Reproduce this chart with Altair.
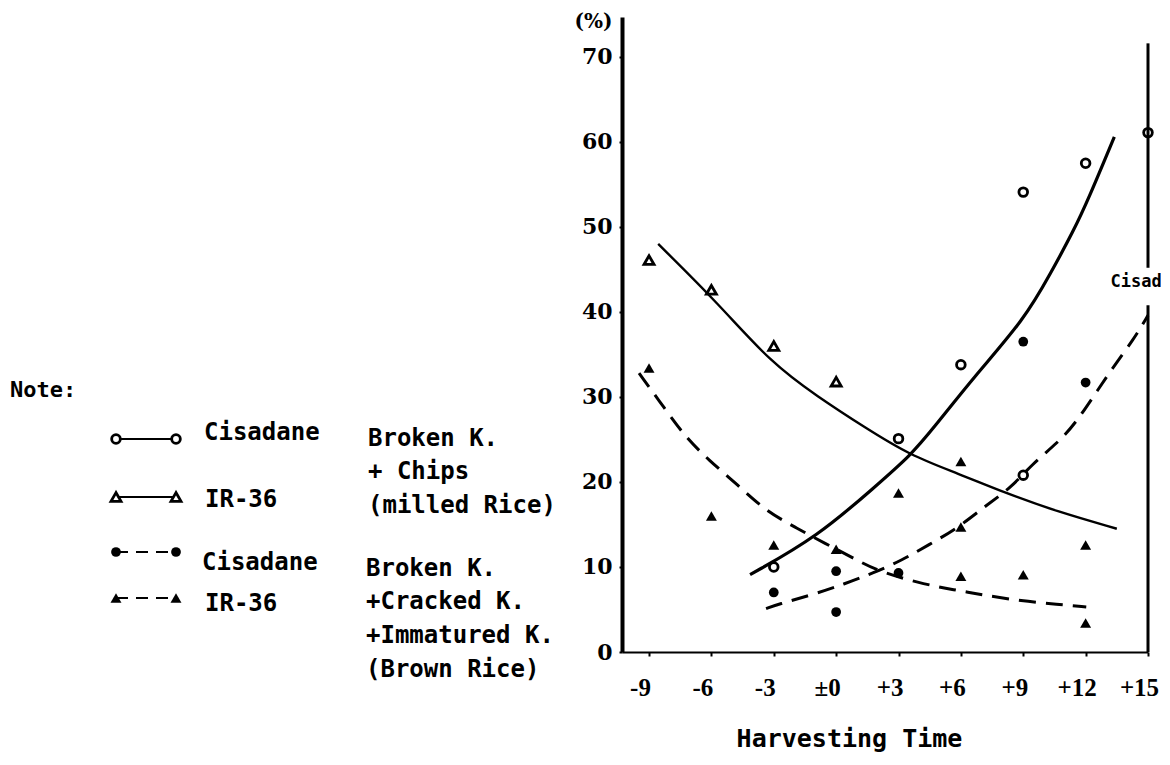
import altair as alt
import pandas as pd

# ---------------- data ----------------
# Cisadane, Broken K. + Chips (milled rice) -- open circles
cis_m_x = [-3, 3, 6, 9, 9, 12, 15]
cis_m_y = [10.0, 25.1, 33.8, 54.1, 20.8, 57.5, 61.1]
# IR-36, Broken K. + Chips (milled rice) -- open triangles
ir_m_x = [-9, -6, -3, 0]
ir_m_y = [46.1, 42.6, 36.0, 31.8]
# Cisadane, Broken + Cracked + Immatured K. (brown rice) -- filled circles
cis_b_x = [-3, 0, 0, 3, 9, 12]
cis_b_y = [7.0, 9.5, 4.7, 9.3, 36.5, 31.7]
# IR-36, Broken + Cracked + Immatured K. (brown rice) -- filled triangles
ir_b_x = [-9, -6, -3, 0, 3, 6, 6, 6, 9, 12, 12]
ir_b_y = [33.4, 16.0, 12.6, 12.1, 18.7, 22.4, 14.7, 8.9, 9.1, 12.6, 3.4]

# fitted curves as drawn in the figure
cis_m_curve_x = [-4.14, -0.87, 1.94, 3.57, 4.67, 6.64, 9.05, 10.33, 11.43, 12.12, 13.38]
cis_m_curve_y = [9.1, 13.6, 19.6, 23.1, 26.3, 32.4, 39.1, 44.6, 49.6, 53.2, 60.6]
ir_m_curve_x = [-8.56, -5.67, -3.13, -0.87, 1.32, 3.57, 5.87, 8.15, 10.65, 13.5]
ir_m_curve_y = [48.0, 41.0, 34.0, 30.0, 26.5, 23.1, 21.0, 18.7, 16.5, 14.5]
ir_b_curve_x = [-9.48, -8.2, -7.25, -6.14, -4.71, -3.44, -2.0, -0.55, 1.02, 1.94,
                3.97, 5.71, 7.09, 8.91, 10.65, 12.03]
ir_b_curve_y = [32.8, 28.5, 25.3, 22.6, 19.6, 16.7, 14.7, 12.8, 10.8, 9.6,
                8.1, 7.3, 6.7, 6.0, 5.6, 5.3]
cis_b_curve_x = [-3.37, -2.81, -1.19, 0.40, 1.79, 3.18, 4.44, 5.87, 7.24, 8.45,
                 9.38, 10.65, 11.6, 13.1, 14.3, 15.0]
cis_b_curve_y = [5.1, 5.6, 6.7, 8.0, 9.3, 10.8, 12.6, 14.6, 17.3, 19.4,
                 22.0, 24.6, 27.1, 32.8, 36.7, 39.6]

x_ticks = [-9, -6, -3, 0, 3, 6, 9, 12, 15]
y_ticks = [0, 10, 20, 30, 40, 50, 60, 70]

# ---------------- styling ----------------
SERIF = "DejaVu Serif"
TIMES = "Liberation Serif"
MONO = "DejaVu Sans Mono"
BLACK = "#000000"
PLOT_LEFT, PLOT_TOP = 622, 17  # page position of the plot area (for annotation offsets)

xscale = alt.Scale(domain=[-10.3, 15], nice=False, zero=False)
yscale = alt.Scale(domain=[0, 74.7], nice=False, zero=True)

xaxis = alt.Axis(
    values=x_ticks,
    labelExpr="datum.value > 0 ? '+' + datum.value : (datum.value == 0 ? '±0' : '-' + abs(datum.value))",
    labelFont=TIMES, labelFontSize=25, labelFontWeight="bold", labelColor=BLACK,
    labelPadding=19, labelOffset=-9, labelFlush=False, labelOverlap=False, labelBound=False,
    domainColor=BLACK, domainWidth=2, tickColor=BLACK, tickSize=4, tickWidth=2,
    grid=False,
    title="Harvesting Time", titleFont=MONO, titleFontSize=25, titleFontWeight="bold",
    titleColor=BLACK, titleX=227, titleY=86, titleAlign="center", titleBaseline="middle",
)
yaxis = alt.Axis(
    values=y_ticks,
    labelFont=SERIF, labelFontSize=22, labelFontWeight="bold", labelColor=BLACK,
    labelPadding=7, labelOverlap=False, labelBound=False,
    domainColor=BLACK, domainWidth=4, tickColor=BLACK, tickSize=3, tickWidth=2,
    grid=False,
    title="(%)", titleAngle=0, titleX=-10, titleY=4, titleAlign="right", titleBaseline="middle",
    titleFont=SERIF, titleFontSize=20, titleFontWeight="bold", titleColor=BLACK,
)


def X(field="x"):
    return alt.X(f"{field}:Q", scale=xscale, axis=xaxis)


def Y(field="y"):
    return alt.Y(f"{field}:Q", scale=yscale, axis=yaxis)


def frame(xs, ys):
    return pd.DataFrame({"x": xs, "y": ys})


# curves
curve_cm = alt.Chart(frame(cis_m_curve_x, cis_m_curve_y)).mark_line(
    color=BLACK, strokeWidth=3.2, interpolate="basis").encode(x=X(), y=Y())
curve_im = alt.Chart(frame(ir_m_curve_x, ir_m_curve_y)).mark_line(
    color=BLACK, strokeWidth=2.4, interpolate="basis").encode(x=X(), y=Y())
curve_ib = alt.Chart(frame(ir_b_curve_x, ir_b_curve_y)).mark_line(
    color=BLACK, strokeWidth=3, strokeDash=[17, 10], interpolate="basis").encode(x=X(), y=Y())
curve_cb = alt.Chart(frame(cis_b_curve_x, cis_b_curve_y)).mark_line(
    color=BLACK, strokeWidth=3, strokeDash=[17, 10], interpolate="basis").encode(x=X(), y=Y())

# points
pts_cm = alt.Chart(frame(cis_m_x, cis_m_y)).mark_point(
    shape="circle", filled=False, size=75, strokeWidth=2.8, color=BLACK, opacity=1).encode(x=X(), y=Y())
pts_im = alt.Chart(frame(ir_m_x, ir_m_y)).mark_point(
    shape="triangle-up", filled=False, size=100, strokeWidth=2.8, color=BLACK, opacity=1).encode(x=X(), y=Y())
pts_cb = alt.Chart(frame(cis_b_x, cis_b_y)).mark_point(
    shape="circle", filled=True, size=95, color=BLACK, opacity=1).encode(x=X(), y=Y())
pts_ib = alt.Chart(frame(ir_b_x, ir_b_y)).mark_point(
    shape="triangle-up", filled=True, size=120, color=BLACK, opacity=1).encode(x=X(), y=Y())

one = pd.DataFrame({"k": [0]})

# right-hand frame line (interrupted by the clipped side label)
border_lo = alt.Chart(one).mark_rule(color=BLACK, strokeWidth=3).encode(
    x=alt.datum(15, scale=xscale), y=alt.datum(0, scale=yscale), y2=alt.datum(40.8))
border_hi = alt.Chart(one).mark_rule(color=BLACK, strokeWidth=3).encode(
    x=alt.datum(15, scale=xscale), y=alt.datum(45.2, scale=yscale), y2=alt.datum(71.6))
side_label = alt.Chart(one).mark_text(
    text="Cisad", align="left", baseline="middle", font=MONO, fontSize=17,
    fontWeight="bold", color=BLACK).encode(
    x=alt.datum(13.2, scale=xscale), y=alt.datum(43.5, scale=yscale))

# ---------------- "Note:" legend block ----------------
legend_texts = [
    ("Note:", 10, 390, 22),
    ("Cisadane", 204, 433, 24),
    ("Broken K.", 368, 439, 24),
    ("+ Chips", 368, 472, 24),
    ("IR-36", 205, 500, 24),
    ("(milled Rice)", 368, 506, 24),
    ("Cisadane", 202, 563, 24),
    ("Broken K.", 366, 569, 24),
    ("+Cracked K.", 366, 602, 24),
    ("IR-36", 205, 604, 24),
    ("+Immatured K.", 366, 636, 24),
    ("(Brown Rice)", 366, 670, 24),
]
# symbol rows: (y, dashed?, shape, filled, size)
legend_rows = [
    (439, False, "circle", False, 75),
    (497, False, "triangle-up", False, 100),
    (552, True, "circle", True, 95),
    (598, True, "triangle-up", True, 120),
]
SYM_X1, SYM_X2 = 116, 176

legend_layers = []
for s, px, py, fs in legend_texts:
    legend_layers.append(
        alt.Chart(one).mark_text(text=s, align="left", baseline="middle", font=MONO,
                                 fontSize=fs, fontWeight="bold", color=BLACK).encode(
            x=alt.value(px - PLOT_LEFT), y=alt.value(py - PLOT_TOP)))
for py, dashed, shape, filled, size in legend_rows:
    rule_kw = dict(color=BLACK, strokeWidth=2.2)
    if dashed:
        rule_kw["strokeDash"] = [12, 8]
    legend_layers.append(
        alt.Chart(one).mark_rule(**rule_kw).encode(
            x=alt.value(SYM_X1 - PLOT_LEFT), x2=alt.value(SYM_X2 - PLOT_LEFT),
            y=alt.value(py - PLOT_TOP)))
    for sx in (SYM_X1, SYM_X2):
        kw = dict(shape=shape, filled=filled, size=size, color=BLACK, opacity=1)
        if not filled:
            kw["strokeWidth"] = 2.8
            kw["fill"] = "white"
            kw["fillOpacity"] = 1
        legend_layers.append(
            alt.Chart(one).mark_point(**kw).encode(
                x=alt.value(sx - PLOT_LEFT), y=alt.value(py - PLOT_TOP)))

chart = alt.layer(
    curve_cm, curve_im, curve_ib, curve_cb,
    pts_cm, pts_im, pts_cb, pts_ib,
    border_lo, border_hi, side_label,
    *legend_layers,
).properties(
    width=526, height=635,
    padding={"left": 614, "top": 9, "right": 13, "bottom": 100},
    autosize=alt.AutoSizeParams(type="none"),
    background="white",
).configure_view(strokeWidth=0)

chart.save("out.html", embed_options={"renderer": "svg", "actions": False})
